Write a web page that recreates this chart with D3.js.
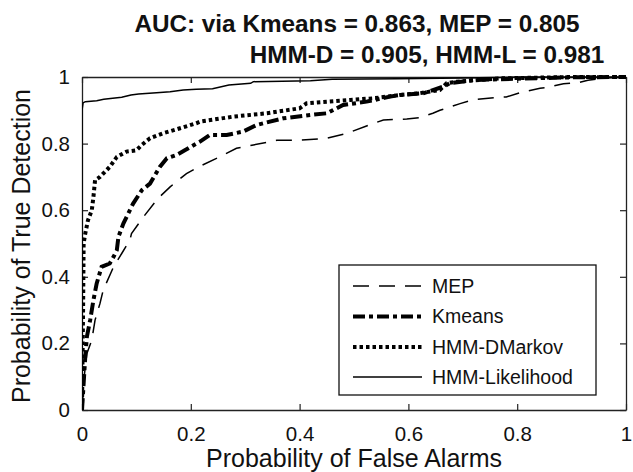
<!DOCTYPE html>
<html><head><meta charset="utf-8">
<script src="https://cdn.jsdelivr.net/npm/d3@7"></script>
<style>html,body{margin:0;padding:0;background:#fff;} svg{display:block;font-family:"Liberation Sans",Arial,Helvetica,sans-serif;}</style>
</head><body>
<script>
// ---- data ----
const titleLines = ["AUC: via Kmeans = 0.863, MEP = 0.805", "HMM-D = 0.905, HMM-L = 0.981"];
const xTicks = [0, 0.2, 0.4, 0.6, 0.8, 1];
const yTicks = [0, 0.2, 0.4, 0.6, 0.8, 1];
const seriesNames = ["MEP", "Kmeans", "HMM-DMarkov", "HMM-Likelihood"];

const mepX = [0, 0.004, 0.009, 0.018, 0.024, 0.033, 0.039, 0.058, 0.073, 0.088, 0.091, 0.113, 0.14, 0.162, 0.192, 0.214, 0.254, 0.284, 0.315, 0.358, 0.40, 0.45, 0.487, 0.523, 0.554, 0.597, 0.62, 0.645, 0.658, 0.695, 0.72, 0.768, 0.78, 0.805, 0.842, 0.854, 0.885, 0.909, 0.93, 0.96, 1];
const mepY = [0, 0.10, 0.17, 0.21, 0.27, 0.32, 0.36, 0.43, 0.47, 0.51, 0.53, 0.58, 0.636, 0.67, 0.71, 0.73, 0.761, 0.786, 0.796, 0.81, 0.81, 0.816, 0.831, 0.853, 0.871, 0.874, 0.878, 0.891, 0.90, 0.92, 0.932, 0.939, 0.94, 0.953, 0.966, 0.968, 0.980, 0.982, 0.99, 0.997, 1];

const kmX = [0, 0.003, 0.006, 0.009, 0.015, 0.021, 0.027, 0.036, 0.051, 0.058, 0.064, 0.067, 0.076, 0.085, 0.094, 0.11, 0.125, 0.143, 0.156, 0.174, 0.189, 0.21, 0.217, 0.235, 0.266, 0.296, 0.321, 0.37, 0.42, 0.45, 0.48, 0.523, 0.566, 0.585, 0.627, 0.664, 0.676, 0.72, 0.80, 0.90, 1];
const kmY = [0, 0.08, 0.16, 0.22, 0.27, 0.33, 0.38, 0.43, 0.44, 0.46, 0.48, 0.52, 0.56, 0.59, 0.62, 0.66, 0.68, 0.73, 0.756, 0.766, 0.78, 0.80, 0.806, 0.826, 0.826, 0.836, 0.856, 0.876, 0.886, 0.891, 0.916, 0.926, 0.941, 0.946, 0.951, 0.971, 0.981, 0.991, 0.995, 0.999, 1];

const hmmDX = [0, 0.002, 0.003, 0.006, 0.011, 0.018, 0.021, 0.024, 0.033, 0.051, 0.064, 0.082, 0.10, 0.11, 0.125, 0.149, 0.174, 0.21, 0.217, 0.278, 0.34, 0.40, 0.413, 0.493, 0.535, 0.585, 0.62, 0.658, 0.67, 0.689, 0.73, 0.77, 0.90, 1];
const hmmDY = [0, 0.30, 0.50, 0.53, 0.57, 0.60, 0.64, 0.69, 0.70, 0.73, 0.76, 0.776, 0.78, 0.796, 0.816, 0.831, 0.843, 0.861, 0.866, 0.881, 0.891, 0.906, 0.921, 0.931, 0.936, 0.946, 0.951, 0.961, 0.981, 0.986, 0.991, 0.996, 1, 1];

const hmmLX = [0, 0, 0.002, 0.006, 0.027, 0.04, 0.073, 0.09, 0.104, 0.137, 0.162, 0.186, 0.21, 0.24, 0.27, 0.31, 0.315, 0.42, 0.46, 0.58, 0.70, 0.80, 1];
const hmmLY = [0, 0.90, 0.922, 0.926, 0.929, 0.933, 0.939, 0.946, 0.949, 0.953, 0.956, 0.961, 0.963, 0.965, 0.976, 0.981, 0.986, 0.989, 0.993, 0.995, 0.997, 1, 1];

// ---- layout ----
const W = 633, H = 472;
const m = {left: 82, right: 626, top: 77, bottom: 410};
const svg = d3.select("body").append("svg").attr("width", W).attr("height", H);

const x = d3.scaleLinear().domain([0, 1]).range([m.left, m.right]);
const y = d3.scaleLinear().domain([0, 1]).range([m.bottom, m.top]);

const fmt = d => d === 0 ? "0" : d === 1 ? "1" : d3.format(".1f")(d);

// axes with inward ticks
const tickLen = 6;
const gB = svg.append("g").attr("transform", `translate(0,${m.bottom})`)
  .call(d3.axisBottom(x).tickValues(xTicks).tickFormat(fmt).tickSizeInner(-tickLen).tickSizeOuter(0).tickPadding(16));
const gL = svg.append("g").attr("transform", `translate(${m.left},0)`)
  .call(d3.axisLeft(y).tickValues(yTicks).tickFormat(fmt).tickSizeInner(-tickLen).tickSizeOuter(0).tickPadding(12));
const gT = svg.append("g").attr("transform", `translate(0,${m.top})`)
  .call(d3.axisTop(x).tickValues(xTicks).tickFormat("").tickSizeInner(-tickLen).tickSizeOuter(0));
const gR = svg.append("g").attr("transform", `translate(${m.right},0)`)
  .call(d3.axisRight(y).tickValues(yTicks).tickFormat("").tickSizeInner(-tickLen).tickSizeOuter(0));
[gB, gL, gT, gR].forEach(g => {
  g.selectAll(".domain").attr("stroke", "#222").attr("stroke-width", 1.3);
  g.selectAll(".tick line").attr("stroke", "#222").attr("stroke-width", 1.2);
  g.selectAll("text").attr("font-size", 20.5).attr("fill", "#111").attr("font-family", "Liberation Sans, Arial, sans-serif");
});

// curves
const line = d3.line().x(d => x(d[0])).y(d => y(d[1]));
const zip = (a, b) => a.map((v, i) => [v, b[i]]);
const styles = [
  {data: zip(mepX, mepY), w: 1.5, dash: "16,10"},
  {data: zip(kmX, kmY), w: 4, dash: "12,4,4,4"},
  {data: zip(hmmDX, hmmDY), w: 4, dash: "3.5,3"},
  {data: zip(hmmLX, hmmLY), w: 1.5, dash: null}
];
svg.append("clipPath").attr("id", "c").append("rect")
  .attr("x", m.left).attr("y", m.top - 2).attr("width", m.right - m.left).attr("height", m.bottom - m.top + 2);
styles.forEach(s => {
  svg.append("path").attr("d", line(s.data)).attr("fill", "none").attr("stroke", "#000")
    .attr("stroke-width", s.w).attr("stroke-dasharray", s.dash).attr("clip-path", "url(#c)");
});

// legend
const lg = {x0: 339, y0: 265, x1: 596, y1: 395};
svg.append("rect").attr("x", lg.x0).attr("y", lg.y0).attr("width", lg.x1 - lg.x0).attr("height", lg.y1 - lg.y0)
  .attr("fill", "#fff").attr("stroke", "#111").attr("stroke-width", 1.3);
const legY = [286, 316.5, 347, 377];
seriesNames.forEach((n, i) => {
  svg.append("line").attr("x1", 353).attr("x2", 422).attr("y1", legY[i]).attr("y2", legY[i])
    .attr("stroke", "#000").attr("stroke-width", styles[i].w).attr("stroke-dasharray", styles[i].dash);
  svg.append("text").attr("x", 432).attr("y", legY[i]).attr("dy", "0.35em")
    .attr("font-size", 19.5).attr("fill", "#111").text(n);
});

// title
svg.append("text").attr("x", 357).attr("y", 32).attr("text-anchor", "middle")
  .attr("font-size", 24.3).attr("font-weight", "bold").attr("fill", "#111").text(titleLines[0]);
svg.append("text").attr("x", 427).attr("y", 63).attr("text-anchor", "middle")
  .attr("font-size", 24.3).attr("font-weight", "bold").attr("fill", "#111").text(titleLines[1]);

// axis labels
svg.append("text").attr("x", 354).attr("y", 467).attr("text-anchor", "middle")
  .attr("font-size", 25).attr("fill", "#111").text("Probability of False Alarms");
svg.append("text").attr("transform", `translate(30,246) rotate(-90)`).attr("text-anchor", "middle")
  .attr("font-size", 25).attr("fill", "#111").text("Probability of True Detection");
</script>
</body></html>
